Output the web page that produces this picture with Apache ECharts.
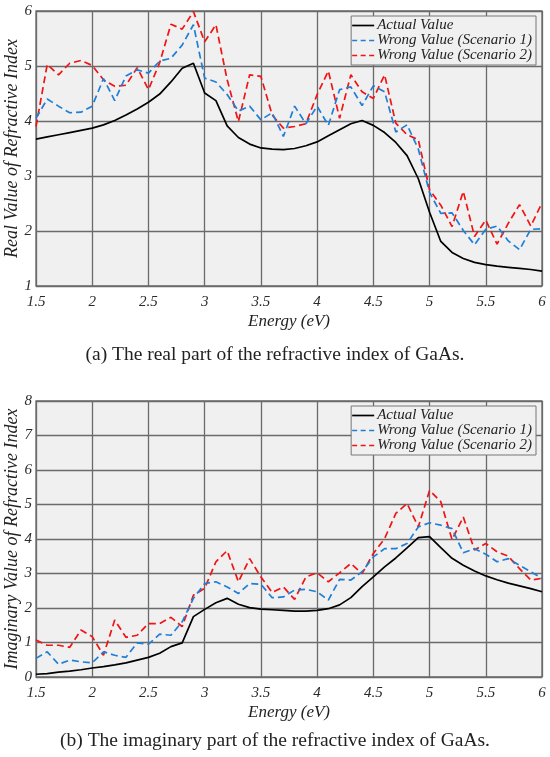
<!DOCTYPE html>
<html>
<head>
<meta charset="utf-8">
<script src="https://cdn.jsdelivr.net/npm/echarts@6/dist/echarts.min.js"></script>
<style>
  html, body { margin: 0; padding: 0; background: #fff; }
  #main { width: 550px; height: 757px; }
</style>
</head>
<body>
<div id="main"></div>
<script>
// energy samples (eV)
var energy = [1.5, 1.6, 1.7, 1.8, 1.9, 2.0, 2.1, 2.2, 2.3, 2.4, 2.5, 2.6, 2.7, 2.8, 2.9, 3.0,
  3.1, 3.2, 3.3, 3.4, 3.5, 3.6, 3.7, 3.8, 3.9, 4.0, 4.1, 4.2, 4.3, 4.4, 4.5,
  4.6, 4.7, 4.8, 4.9, 5.0, 5.1, 5.2, 5.3, 5.4, 5.5, 5.6, 5.7, 5.8, 5.9, 6.0];

// (a) real part
var realActual = [3.67, 3.71, 3.75, 3.79, 3.83, 3.87, 3.93, 4.01, 4.11, 4.22, 4.34, 4.49, 4.71, 4.96, 5.05, 4.51,
  4.37, 3.91, 3.70, 3.58, 3.51, 3.49, 3.48, 3.50, 3.55, 3.62, 3.73, 3.84, 3.95, 4.01, 3.92,
  3.79, 3.61, 3.37, 2.95, 2.34, 1.81, 1.61, 1.50, 1.43, 1.39, 1.36, 1.34, 1.32, 1.30, 1.27];
var realWrong1 = [4.05, 4.40, 4.27, 4.15, 4.16, 4.27, 4.77, 4.37, 4.82, 4.93, 4.87, 5.09, 5.14, 5.38, 5.75, 4.78,
  4.71, 4.48, 4.18, 4.27, 4.02, 4.15, 3.72, 4.27, 3.95, 4.27, 3.92, 4.57, 4.62, 4.28, 4.64,
  4.53, 3.80, 3.93, 3.49, 2.70, 2.32, 2.33, 2.01, 1.75, 2.03, 2.09, 1.82, 1.66, 2.03, 2.04];
var realWrong2 = [3.90, 5.03, 4.84, 5.05, 5.10, 5.01, 4.75, 4.63, 4.65, 4.97, 4.57, 5.06, 5.76, 5.67, 5.99, 5.44,
  5.75, 4.75, 3.99, 4.84, 4.81, 4.11, 3.87, 3.90, 3.95, 4.48, 4.91, 4.05, 4.84, 4.53, 4.41,
  4.84, 3.96, 3.75, 3.66, 2.75, 2.47, 2.08, 2.72, 1.90, 2.20, 1.76, 2.14, 2.48, 2.09, 2.51];

// (b) imaginary part
var imagActual = [0.08, 0.10, 0.14, 0.17, 0.21, 0.26, 0.30, 0.35, 0.41, 0.49, 0.57, 0.69, 0.88, 0.99, 1.75, 1.96,
  2.15, 2.28, 2.11, 2.01, 1.97, 1.95, 1.93, 1.91, 1.91, 1.93, 1.98, 2.09, 2.30, 2.62, 2.90,
  3.19, 3.45, 3.74, 4.04, 4.07, 3.75, 3.44, 3.24, 3.07, 2.93, 2.82, 2.72, 2.64, 2.56, 2.47];
var imagWrong1 = [0.54, 0.73, 0.37, 0.49, 0.44, 0.41, 0.73, 0.63, 0.57, 0.99, 0.95, 1.24, 1.21, 1.60, 2.28, 2.71,
  2.76, 2.61, 2.42, 2.71, 2.69, 2.30, 2.32, 2.52, 2.54, 2.47, 2.23, 2.83, 2.81, 3.05, 3.48,
  3.72, 3.72, 3.87, 4.35, 4.47, 4.40, 4.30, 3.60, 3.72, 3.56, 3.34, 3.43, 3.24, 3.05, 2.86];
var imagWrong2 = [1.07, 0.92, 0.92, 0.86, 1.36, 1.17, 0.63, 1.65, 1.15, 1.21, 1.55, 1.55, 1.73, 1.46, 2.37, 2.57,
  3.34, 3.66, 2.76, 3.43, 2.90, 2.45, 2.61, 2.25, 2.90, 3.02, 2.76, 3.02, 3.29, 3.00, 3.58,
  4.01, 4.74, 5.03, 4.35, 5.41, 5.08, 3.98, 4.64, 3.68, 3.87, 3.63, 3.50, 3.14, 2.81, 2.86];

var seriesNames = ['Actual Value', 'Wrong Value (Scenario 1)', 'Wrong Value (Scenario 2)'];
var xTicks = { min: 1.5, max: 6, interval: 0.5 };
var captions = ['(a) The real part of the refractive index of GaAs.',
  '(b) The imaginary part of the refractive index of GaAs.'];

var serif = '"Liberation Serif", "DejaVu Serif", serif';
var gridCol = '#6a6a6a';
var colors = ['#000000', '#1f7fd6', '#f01414'];
// legend line samples: solid and dashed strokes drawn as thin bars
var solidIcon = 'path://M0,0h22v1.7h-22z';
var dashIcon = 'path://M0,0h5v1.7h-5zM8.5,0h5v1.7h-5zM17,0h5v1.7h-5z';

function pairs(ys) {
  return energy.map(function (e, i) { return [e, ys[i]]; });
}

function makeX(idx) {
  return {
    type: 'value', gridIndex: idx,
    min: xTicks.min, max: xTicks.max, interval: xTicks.interval,
    name: 'Energy (eV)', nameLocation: 'middle', nameGap: 27, nameMoveOverlap: false,
    nameTextStyle: { fontFamily: serif, fontStyle: 'italic', fontSize: 17, color: '#222' },
    axisLine: { show: false },
    axisTick: { show: false },
    axisLabel: { fontFamily: serif, fontStyle: 'italic', fontSize: 15, color: '#2a2a2a', margin: 9 },
    splitLine: { show: true, lineStyle: { color: gridCol, width: 1.3 } }
  };
}

function makeY(idx, min, max, title) {
  return {
    type: 'value', gridIndex: idx,
    min: min, max: max, interval: 1,
    name: title, nameLocation: 'middle', nameGap: 15, nameMoveOverlap: false,
    nameTextStyle: { fontFamily: serif, fontStyle: 'italic', fontSize: 18, color: '#222' },
    axisLine: { show: false },
    axisTick: { show: false },
    axisLabel: { fontFamily: serif, fontStyle: 'italic', fontSize: 15, color: '#2a2a2a', margin: 4 },
    splitLine: { show: true, lineStyle: { color: gridCol, width: 1.3 } }
  };
}

function makeSeries(idx, list) {
  return list.map(function (ys, k) {
    return {
      name: seriesNames[k],
      type: 'line',
      xAxisIndex: idx, yAxisIndex: idx,
      symbol: 'none',
      z: 10 - k,
      lineStyle: { color: colors[k], width: 1.7, type: k === 0 ? 'solid' : [7, 4] },
      itemStyle: { color: colors[k] },
      data: pairs(ys)
    };
  });
}

function makeLegend(top) {
  return {
    data: seriesNames.map(function (n, k) {
      return { name: n, icon: k === 0 ? solidIcon : dashIcon };
    }),
    orient: 'vertical',
    right: 14, top: top,
    backgroundColor: '#f0f0f0',
    borderColor: '#777', borderWidth: 1, borderRadius: 0,
    padding: [2, 4, 2, 1],
    itemGap: 0, itemWidth: 22, itemHeight: 17,
    selectedMode: false,
    textStyle: { fontFamily: serif, fontStyle: 'italic', fontSize: 15, color: '#222', padding: [0, 0, 0, -2] }
  };
}

var chart = echarts.init(document.getElementById('main'));
chart.setOption({
  backgroundColor: '#fff',
  animation: false,
  grid: [
    { left: 36, top: 11, right: 8, height: 275, outerBoundsMode: 'none', show: true,
      backgroundColor: '#f0f0f0', borderColor: gridCol, borderWidth: 1.3 },
    { left: 36, top: 401, right: 8, height: 276, outerBoundsMode: 'none', show: true,
      backgroundColor: '#f0f0f0', borderColor: gridCol, borderWidth: 1.3 }
  ],
  legend: [makeLegend(16), makeLegend(406)],
  xAxis: [makeX(0), makeX(1)],
  yAxis: [
    makeY(0, 1, 6, 'Real Value of Refractive Index'),
    makeY(1, 0, 8, 'Imaginary Value of Refractive Index')
  ],
  graphic: [
    { type: 'text', left: 'center', top: 345,
      style: { text: captions[0], fontFamily: serif, fontSize: 19.5, fill: '#222' } },
    { type: 'text', left: 'center', top: 731,
      style: { text: captions[1], fontFamily: serif, fontSize: 19.5, fill: '#222' } }
  ],
  series: makeSeries(0, [realActual, realWrong1, realWrong2])
    .concat(makeSeries(1, [imagActual, imagWrong1, imagWrong2]))
});
</script>
</body>
</html>
